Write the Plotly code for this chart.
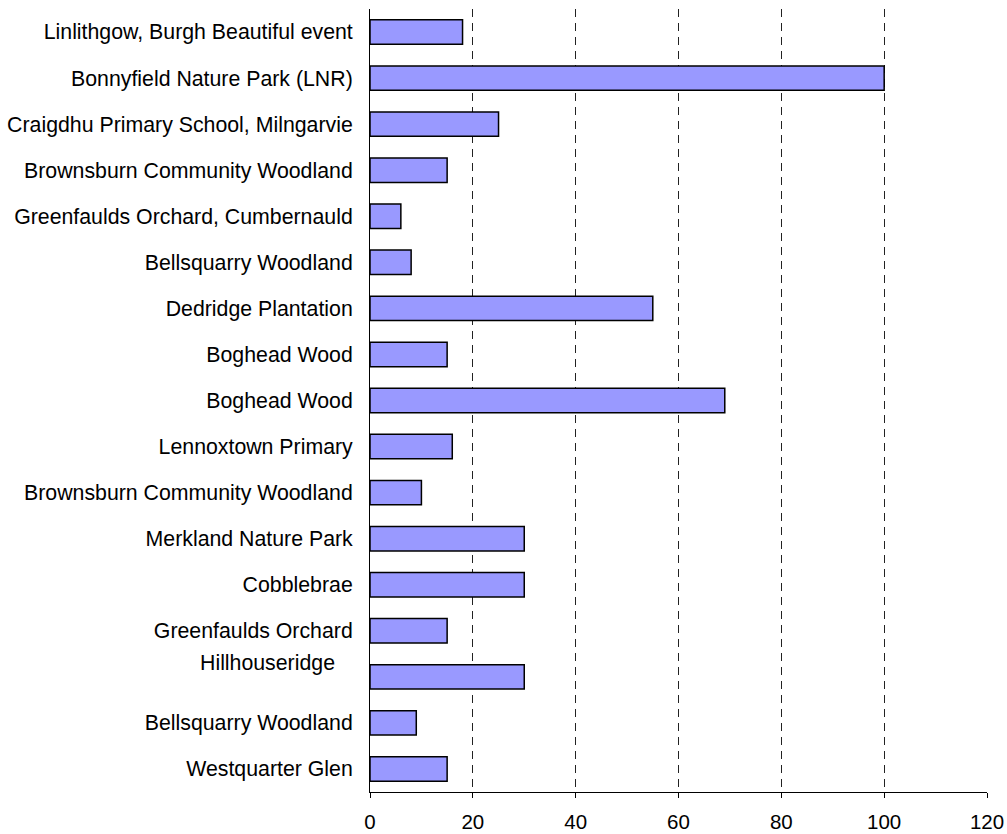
import plotly.graph_objects as go

sites = [
    "Linlithgow, Burgh Beautiful event",
    "Bonnyfield Nature Park (LNR)",
    "Craigdhu Primary School, Milngarvie",
    "Brownsburn Community Woodland",
    "Greenfaulds Orchard, Cumbernauld",
    "Bellsquarry Woodland",
    "Dedridge Plantation",
    "Boghead Wood",
    "Boghead Wood",
    "Lennoxtown Primary",
    "Brownsburn Community Woodland",
    "Merkland Nature Park",
    "Cobblebrae",
    "Greenfaulds Orchard",
    "Hillhouseridge\u00a0\u00a0\u00a0<br> ",
    "Bellsquarry Woodland",
    "Westquarter Glen",
]
values = [18, 100, 25, 15, 6, 8, 55, 15, 69, 16, 10, 30, 30, 15, 30, 9, 15]
x_ticks = [0, 20, 40, 60, 80, 100, 120]

positions = list(range(len(sites)))

fig = go.Figure(go.Bar(
    x=values,
    y=positions,
    orientation="h",
    width=0.53,
    marker=dict(color="#9999FF", line=dict(color="#000000", width=1.5)),
))

fig.update_layout(
    width=1007, height=834,
    margin=dict(l=370, r=20, t=9, b=42, autoexpand=False),
    paper_bgcolor="white", plot_bgcolor="white",
    showlegend=False,
    font=dict(family="Liberation Sans, Arial, sans-serif", size=21, color="black"),
)
fig.update_xaxes(
    range=[0, 120], tickvals=x_ticks, ticktext=[str(v) for v in x_ticks],
    showgrid=True, gridcolor="#222222", gridwidth=1, griddash="8px,6px",
    showline=True, linecolor="black", linewidth=1,
    ticks="outside", ticklen=5, tickcolor="black",
    zeroline=False, tickfont=dict(size=20.5), ticklabelstandoff=6,
    automargin=False,
)
fig.update_yaxes(
    range=[16.5, -0.5], tickvals=positions, ticktext=sites,
    showgrid=False, zeroline=False,
    showline=True, linecolor="black", linewidth=1,
    ticks="", ticklabelstandoff=12, tickfont=dict(size=21.3),
    automargin=False,
)

fig.write_html("out.html")
